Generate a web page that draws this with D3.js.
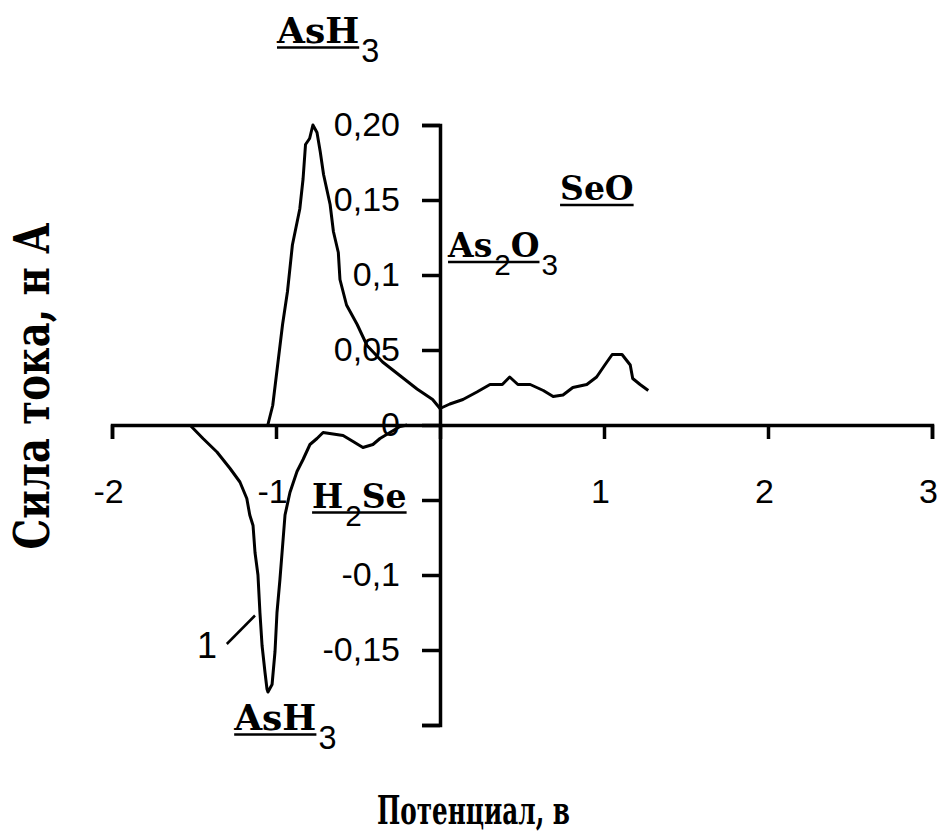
<!DOCTYPE html>
<html>
<head>
<meta charset="utf-8">
<script src="https://cdn.jsdelivr.net/npm/d3@7"></script>
<style>
  body { margin: 0; background: #fff; }
  .axis path, .axis line { stroke: #000; stroke-width: 3.5; }
  .axis text { font-family: "Liberation Sans", Arial, sans-serif; font-size: 34px; fill: #000; }
</style>
</head>
<body>
<div id="chart"></div>
<script>
// anodic branch (above zero), [potential V, current nA]
var upperCurve = [
  [-1.05, 0], [-1.02, 0.013], [-0.99, 0.04], [-0.96, 0.067], [-0.93, 0.089],
  [-0.90, 0.12], [-0.855, 0.144], [-0.835, 0.164], [-0.82, 0.187], [-0.795, 0.191],
  [-0.775, 0.2], [-0.75, 0.195], [-0.73, 0.182], [-0.71, 0.167], [-0.67, 0.147],
  [-0.65, 0.129], [-0.62, 0.115], [-0.61, 0.097], [-0.57, 0.08], [-0.505, 0.067],
  [-0.445, 0.053], [-0.35, 0.042], [-0.245, 0.033], [-0.14, 0.024], [-0.045, 0.017],
  [0, 0.011], [0.06, 0.014], [0.14, 0.017], [0.225, 0.022], [0.305, 0.027],
  [0.38, 0.027], [0.425, 0.032], [0.475, 0.027], [0.55, 0.027], [0.63, 0.023],
  [0.69, 0.019], [0.75, 0.02], [0.81, 0.025], [0.895, 0.027], [0.955, 0.032],
  [1.005, 0.04], [1.05, 0.047], [1.11, 0.047], [1.16, 0.04], [1.175, 0.031],
  [1.22, 0.027], [1.27, 0.023]
];

// cathodic branch (below zero)
var lowerCurve = [
  [-1.525, 0], [-1.445, -0.009], [-1.36, -0.018], [-1.28, -0.029], [-1.22, -0.038],
  [-1.178, -0.049], [-1.16, -0.06], [-1.14, -0.067], [-1.128, -0.085], [-1.11, -0.1],
  [-1.098, -0.125], [-1.085, -0.147], [-1.067, -0.165], [-1.055, -0.176], [-1.049, -0.178],
  [-1.024, -0.173], [-1.006, -0.151], [-0.994, -0.125], [-0.976, -0.103], [-0.963, -0.085],
  [-0.945, -0.06], [-0.915, -0.045], [-0.872, -0.031], [-0.835, -0.023], [-0.793, -0.013],
  [-0.75, -0.009], [-0.713, -0.005], [-0.652, -0.006], [-0.591, -0.007], [-0.53, -0.011],
  [-0.47, -0.015], [-0.409, -0.013], [-0.366, -0.009], [-0.305, -0.005], [-0.244, -0.001],
  [-0.2, 0]
];

var xTicks = [-2, -1, 0, 1, 2, 3];
var xTickLabels = ["-2", "-1", "", "1", "2", "3"];
var yTicks = [0.2, 0.15, 0.1, 0.05, 0, -0.05, -0.1, -0.15, -0.2];
var yTickLabels = ["0,20", "0,15", "0,1", "0,05", "0", "", "-0,1", "-0,15", ""];

// peak labels: "_" marks a subscript digit, anchor in data coords
var peakNames = ["AsH_3", "SeO", "As_2O_3", "H_2Se", "AsH_3"];
var peakAt = [[-0.994, 0.255], [0.732, 0.15], [0.049, 0.112], [-0.78, -0.055], [-1.255, -0.203]];

var xTitle = "Потенциал, в";
var yTitle = "Сила тока, н А";

var width = 940, height = 837;
var slab = "'DejaVu Serif', serif";
var sans = "'Liberation Sans', Arial, sans-serif";

var x = d3.scaleLinear().domain([-2, 3]).range([112, 932]);
var y = d3.scaleLinear().domain([-0.2, 0.2]).range([725, 125]);

var svg = d3.select("#chart").append("svg")
    .attr("width", width)
    .attr("height", height);

svg.append("rect").attr("width", width).attr("height", height).attr("fill", "#fff");

var xAxis = svg.append("g")
    .attr("class", "axis")
    .attr("transform", "translate(0," + y(0) + ")")
    .call(d3.axisBottom(x)
        .tickValues(xTicks)
        .tickSize(14)
        .tickSizeOuter(14)
        .tickPadding(40)
        .tickFormat(function(d, i) { return xTickLabels[i]; }));

xAxis.selectAll(".tick text").attr("dx", -4);

var yAxis = svg.append("g")
    .attr("class", "axis")
    .attr("transform", "translate(" + x(0) + ",0)")
    .call(d3.axisLeft(y)
        .tickValues(yTicks)
        .tickSize(18)
        .tickSizeOuter(18)
        .tickPadding(22)
        .tickFormat(function(d, i) { return yTickLabels[i]; }));

svg.selectAll(".axis .domain").attr("fill", "none");

var line = d3.line()
    .x(function(d) { return x(d[0]); })
    .y(function(d) { return y(d[1]); });

svg.append("path")
    .datum(upperCurve)
    .attr("d", line)
    .attr("fill", "none")
    .attr("stroke", "#000")
    .attr("stroke-width", 3)
    .attr("stroke-linejoin", "round");

svg.append("path")
    .datum(lowerCurve)
    .attr("d", line)
    .attr("fill", "none")
    .attr("stroke", "#000")
    .attr("stroke-width", 3)
    .attr("stroke-linejoin", "round");

// underlined formula, subscripts dropped below the rule in a sans face
function formula(name, px, py, size) {
    var g = svg.append("g");
    var parts = name.match(/_\d|[^_]+?(?=_|$)/g);
    var cx = px, ulEnd = px;
    parts.forEach(function(p) {
        var sub = p[0] == "_";
        var t = g.append("text")
            .attr("x", cx + (sub ? 2 : 0))
            .attr("y", sub ? py + size * 0.55 : py)
            .style("font-family", sub ? sans : slab)
            .style("font-weight", sub ? "normal" : "bold")
            .style("font-size", (sub ? size * 0.9 : size) + "px")
            .text(sub ? p.slice(1) : p);
        cx += t.node().getComputedTextLength() + (sub ? 2 : 0);
        if (!sub) ulEnd = cx;
    });
    g.append("line")
        .attr("x1", px).attr("x2", ulEnd)
        .attr("y1", py + 5).attr("y2", py + 5)
        .attr("stroke", "#000").attr("stroke-width", 2.5);
}

var peakSize = [36, 33, 33, 33, 36];
peakNames.forEach(function(n, i) {
    formula(n, x(peakAt[i][0]), y(peakAt[i][1]), peakSize[i]);
});

// curve number with leader
svg.append("text")
    .attr("x", x(-1.42))
    .attr("y", y(-0.155))
    .attr("text-anchor", "middle")
    .style("font-family", sans)
    .style("font-size", "36px")
    .text("1");

svg.append("line")
    .attr("x1", x(-1.30)).attr("y1", y(-0.146))
    .attr("x2", x(-1.128)).attr("y2", y(-0.127))
    .attr("stroke", "#000").attr("stroke-width", 2.5);

svg.append("text")
    .attr("x", 377)
    .attr("y", 824)
    .attr("textLength", 193)
    .attr("lengthAdjust", "spacingAndGlyphs")
    .style("font-family", slab)
    .style("font-weight", "bold")
    .style("font-size", "40px")
    .text(xTitle);

svg.append("text")
    .attr("transform", "translate(49,386) rotate(-90)")
    .attr("text-anchor", "middle")
    .attr("textLength", 327)
    .attr("lengthAdjust", "spacingAndGlyphs")
    .style("font-family", slab)
    .style("font-weight", "bold")
    .style("font-size", "48px")
    .text(yTitle);
</script>
</body>
</html>
